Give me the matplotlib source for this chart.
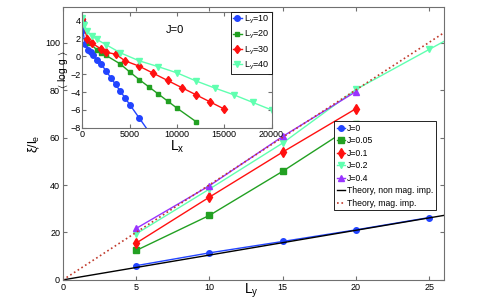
import numpy as np
import matplotlib
matplotlib.use('Agg')
import matplotlib.pyplot as plt

# main panel data
ly = [5, 10, 15, 20, 25]
xi_j0 = [6.0, 11.4, 16.2, 21.1, 26.3]
ly_j005 = [5, 10, 15, 20]
xi_j005 = [12.4, 27.2, 45.8, 65.8]
ly_j01 = [5, 10, 15, 20]
xi_j01 = [15.5, 34.9, 53.9, 72.2]
ly_j02 = [5, 10, 15, 20, 25, 30]
xi_j02 = [19.4, 38.3, 57.7, 80.3, 97.2, 114.0]
ly_j04 = [5, 10, 15, 20]
xi_j04 = [21.7, 39.7, 60.5, 79.4]
theory_ly = [0, 26]
theory_nonmag = [0, 27.2]
theory_mag = [0, 104.2]

# inset data (J=0)
lx_10 = [0, 50, 250, 600, 850, 1150, 1500, 2000, 2500, 3000, 3500, 4000, 4500, 5000, 6000, 7000]
g_10 = [4.1, 2.9, 1.43, 0.75, 0.49, 0.11, -0.38, -0.9, -1.65, -2.4, -3.15, -3.9, -4.65, -5.4, -6.9, -8.4]
lx_20 = [0, 700, 1500, 2000, 2500, 4000, 5000, 6000, 7000, 8000, 9000, 10000, 12000]
g_20 = [4.2, 1.55, 0.75, 0.42, 0.1, -0.85, -1.75, -2.6, -3.4, -4.2, -5.0, -5.8, -7.3]
lx_30 = [0, 500, 1000, 2000, 2500, 3500, 4500, 6000, 7500, 9000, 10500, 12000, 13500, 15000]
g_30 = [4.2, 1.9, 1.5, 0.78, 0.45, 0.25, -0.5, -1.1, -1.9, -2.7, -3.5, -4.3, -5.1, -5.9]
lx_40 = [0, 200, 500, 1000, 1500, 2500, 4000, 6000, 8000, 10000, 12000, 14000, 16000, 18000, 20000]
g_40 = [4.3, 3.5, 2.8, 2.3, 1.9, 1.3, 0.4, -0.5, -1.15, -1.85, -2.75, -3.55, -4.3, -5.15, -6.0]

c_blue = '#2244ff'
c_green = '#22a022'
c_red = '#ff1010'
c_cyan = '#60ffb0'
c_purple = '#9933ff'
c_mag = '#c0392b'
frame = '#707070'

plt.rcParams['font.family'] = ['Liberation Sans', 'DejaVu Sans']
plt.rcParams['font.size'] = 7
plt.rcParams['mathtext.fontset'] = 'custom'
plt.rcParams['mathtext.rm'] = 'Liberation Sans'

fig = plt.figure(figsize=(4.91, 3.0), dpi=100)
ax = fig.add_axes([0.128, 0.067, 0.776, 0.909])

ax.plot(ly, xi_j0, '-o', color=c_blue, ms=4, lw=1, label='J=0')
ax.plot(ly_j005, xi_j005, '-s', color=c_green, ms=4, lw=1, label='J=0.05')
ax.plot(ly_j01, xi_j01, '-d', color=c_red, ms=5, lw=1, label='J=0.1')
ax.plot(ly_j02, xi_j02, '-v', color=c_cyan, ms=5, lw=1, markevery=[0, 1, 2, 3, 4], label='J=0.2')
ax.plot(ly_j04, xi_j04, '-^', color=c_purple, ms=5, lw=1, label='J=0.4')
ax.plot(theory_ly, theory_nonmag, '-', color='black', lw=1, label='Theory, non mag. imp.')
ax.plot(theory_ly, theory_mag, ':', color=c_mag, lw=1.2, label='Theory, mag. imp.')

ax.set_xlim(0, 26)
ax.set_ylim(0, 115)
ax.set_xticks([0, 5, 10, 15, 20, 25])
ax.set_yticks([0, 20, 40, 60, 80, 100])
ax.tick_params(direction='in', top=True, right=True, length=3, color=frame, labelsize=6.5, pad=2)
for s in ax.spines.values():
    s.set_color(frame)
ax.set_xlabel('$\\mathregular{L_y}$', fontsize=10)
ax.xaxis.set_label_coords(0.496, -0.008)
ax.set_ylabel('$\\mathregular{\\xi/l_e}$', fontsize=9, labelpad=2)
leg = ax.legend(loc='lower right', bbox_to_anchor=(0.99, 0.24), fontsize=6.2, handlelength=1.0,
                handletextpad=0.2, labelspacing=0.4, borderpad=0.3, fancybox=False,
                edgecolor='black', framealpha=1)
leg.get_frame().set_linewidth(0.6)

# inset
ins = fig.add_axes([0.168, 0.574, 0.385, 0.387])
ins.plot(lx_10, g_10, '-o', color=c_blue, ms=4, lw=1, markevery=list(range(len(lx_10) - 1)),
         label='$\\mathregular{L_y}$=10')
ins.plot(lx_20, g_20, '-s', color=c_green, ms=3.5, lw=1, label='$\\mathregular{L_y}$=20')
ins.plot(lx_30, g_30, '-d', color=c_red, ms=4.5, lw=1, label='$\\mathregular{L_y}$=30')
ins.plot(lx_40, g_40, '-v', color=c_cyan, ms=4.5, lw=1, label='$\\mathregular{L_y}$=40')
ins.set_xlim(0, 20000)
ins.set_ylim(-8, 5)
ins.set_xticks([0, 5000, 10000, 15000, 20000])
ins.set_yticks([-8, -6, -4, -2, 0, 2, 4])
ins.tick_params(direction='in', top=True, right=True, length=3, color=frame, labelsize=6.5, pad=1.5)
for s in ins.spines.values():
    s.set_color(frame)
ins.set_xlabel('$\\mathregular{L_x}$', fontsize=10, labelpad=0)
ins.set_ylabel('$\\mathregular{\\langle\\ log\\ g\\ \\rangle}$', fontsize=7.5, labelpad=0)
ins.text(0.44, 0.82, 'J=0', transform=ins.transAxes, fontsize=8)
leg2 = ins.legend(loc='upper right', fontsize=6.5, handlelength=1.0, handletextpad=0.2,
                  labelspacing=0.35, borderpad=0.25, fancybox=False, edgecolor='black',
                  framealpha=1, borderaxespad=0.0)
leg2.get_frame().set_linewidth(0.6)

fig.savefig('out.png', dpi=100)
